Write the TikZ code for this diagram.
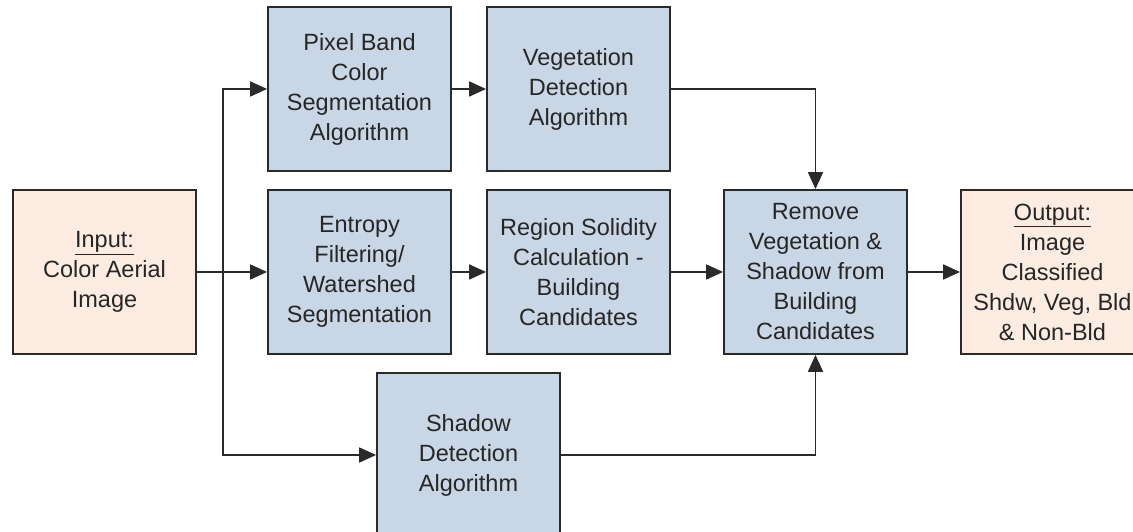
\documentclass[tikz,border=0pt]{standalone}
\usepackage{fontspec}
\setmainfont{Liberation Sans}
\usetikzlibrary{arrows.meta,positioning,calc}
\definecolor{procfill}{HTML}{C9D6E6}
\definecolor{iofill}{HTML}{FCECE1}
\definecolor{edgegray}{HTML}{2A2A2A}
\tikzset{
procbox/.style={draw=edgegray, line width=1.8pt, fill=procfill, align=center, minimum width=183pt, minimum height=164pt, inner sep=2pt, text=black!85, font=\fontsize{23.5}{30}\selectfont},
iobox/.style={procbox, fill=iofill},
flowarrow/.style={-{Triangle[length=17pt,width=15pt]}, line width=1.8pt, draw=edgegray},
flowline/.style={line width=1.8pt, draw=edgegray}
}

\begin{document}
\begin{tikzpicture}[x=1pt,y=1pt]
\useasboundingbox (0,0) rectangle (1133,532);

\node[iobox] (input) at (104.5,260) {\underline{Input:}\\Color Aerial\\Image};
\node[procbox] (pixel) at (359.5,443) {Pixel Band\\Color\\Segmentation\\Algorithm};
\node[procbox] (veg) at (578.5,443) {Vegetation\\Detection\\Algorithm};
\node[procbox] (entropy) at (359.5,260) {Entropy\\Filtering/\\Watershed\\Segmentation};
\node[procbox] (region) at (578.5,260) {Region Solidity\\Calculation -\\Building\\Candidates};
\node[procbox] (remove) at (815.5,260) {Remove\\Vegetation \&\\Shadow from\\Building\\Candidates};
\node[iobox] (output) at (1052.5,260) {\underline{Output:}\\Image\\Classified\\Shdw, Veg, Bld\\\& Non-Bld};
\node[procbox] (shadow) at (468.5,77) {Shadow\\Detection\\Algorithm};

% split point feeding the three branches
\coordinate (split) at (223,260);
\draw[flowarrow] (input) -- (entropy);
\draw[flowarrow] (split) |- (pixel.west);
\draw[flowarrow] (split) |- (shadow.west);

\draw[flowarrow] (pixel) -- (veg);
\draw[flowarrow] (entropy) -- (region);
\draw[flowarrow] (region) -- (remove);
\draw[flowarrow] (remove) -- (output);
\draw[flowarrow] (veg.east) -| (remove.north);
\draw[flowarrow] (shadow.east) -| (remove.south);
\end{tikzpicture}
\end{document}
